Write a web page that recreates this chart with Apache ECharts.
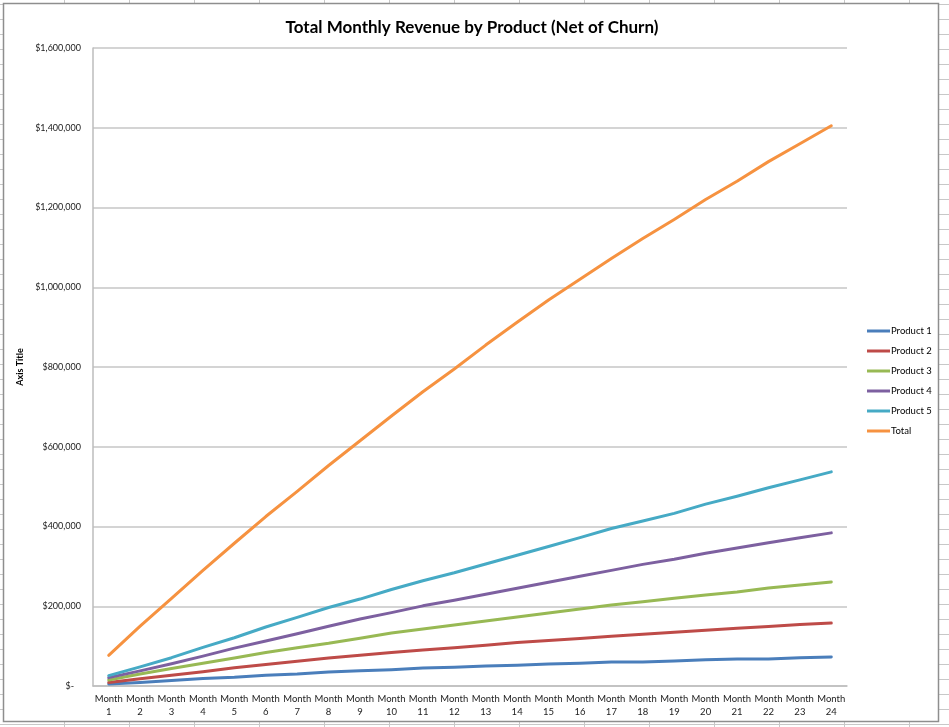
<!DOCTYPE html>
<html>
<head>
<meta charset="utf-8">
<script src="https://cdn.jsdelivr.net/npm/echarts@6/dist/echarts.min.js"></script>
<style>
  html, body { margin: 0; padding: 0; }
  body {
    width: 949px; height: 727px; overflow: hidden;
    background-color: #ffffff;
    background-image:
      repeating-linear-gradient(to right, transparent 0, transparent 63px, #c8c8c8 63px, #c8c8c8 64px, transparent 64px, transparent 65px),
      repeating-linear-gradient(to bottom, transparent 0, transparent 2px, #c8c8c8 2px, #c8c8c8 3px, transparent 3px, transparent 15px);
    background-position: 1px 0, 0 2px;
  }
  #chart { position: absolute; left: 0; top: 0; width: 949px; height: 727px; }
</style>
</head>
<body>
<div id="chart"></div>
<script>
// ---- data (in dollars) ----
const categories = ['Month\n1','Month\n2','Month\n3','Month\n4','Month\n5','Month\n6','Month\n7','Month\n8',
  'Month\n9','Month\n10','Month\n11','Month\n12','Month\n13','Month\n14','Month\n15','Month\n16',
  'Month\n17','Month\n18','Month\n19','Month\n20','Month\n21','Month\n22','Month\n23','Month\n24'];
const product1 = [5000, 9000, 14000, 19000, 22000, 27000, 30000, 35000, 38000, 41000, 45000, 47000,
  50000, 52000, 55000, 57000, 60000, 60000, 63000, 66000, 68000, 68000, 71000, 73000];
const product2 = [9000, 18000, 27000, 36000, 46000, 54000, 62000, 70000, 77000, 84000, 90000, 96000,
  102000, 109000, 114000, 119000, 125000, 130000, 135000, 140000, 145000, 149000, 154000, 158000];
const product3 = [15000, 30000, 44000, 57000, 70000, 84000, 96000, 107000, 120000, 133000, 143000, 153000,
  163000, 173000, 183000, 193000, 203000, 211000, 220000, 228000, 236000, 246000, 253000, 261000];
const product4 = [21000, 38000, 56000, 75000, 95000, 113000, 131000, 150000, 168000, 184000, 201000, 215000,
  230000, 245000, 260000, 275000, 290000, 305000, 318000, 333000, 346000, 359000, 372000, 384000];
const product5 = [26000, 48000, 71000, 97000, 121000, 148000, 172000, 197000, 218000, 242000, 264000, 284000,
  306000, 328000, 350000, 372000, 395000, 414000, 433000, 456000, 476000, 497000, 517000, 537000];
const total = [77000, 150000, 220000, 290000, 358000, 425000, 488000, 553000, 615000, 677000, 738000, 795000,
  855000, 912000, 968000, 1020000, 1072000, 1122000, 1170000, 1220000, 1266000, 1315000, 1360000, 1405000];
const seriesNames = ['Product 1', 'Product 2', 'Product 3', 'Product 4', 'Product 5', 'Total'];
const seriesData = [product1, product2, product3, product4, product5, total];
const colors = ['#4a7ebb', '#be4b48', '#98b954', '#7d60a0', '#46aac5', '#f69240'];
const yTicks = { min: 0, max: 1600000, interval: 200000 };

const FONT = 'Lato, "Open Sans", sans-serif';

const chart = echarts.init(document.getElementById('chart'), null, { renderer: 'canvas' });
chart.setOption({
  backgroundColor: 'transparent',
  animation: false,
  color: colors,
  graphic: [{
    type: 'rect', z: -10, silent: true,
    shape: { x: 3.5, y: 3.5, width: 935, height: 718 },
    style: { fill: '#ffffff', stroke: '#8e8e8e', lineWidth: 1.5 }
  }],
  title: {
    text: 'Total Monthly Revenue by Product (Net of Churn)',
    left: 467, top: 14, textAlign: 'center',
    textStyle: { fontFamily: FONT, fontWeight: 'bold', fontSize: 17, color: '#000' }
  },
  legend: {
    orient: 'vertical', left: 862, top: 321,
    itemWidth: 23, itemHeight: 3, itemGap: 10, icon: 'rect',
    textStyle: { fontFamily: FONT, fontSize: 9.5, color: '#000', padding: [0, 0, 0, -4] },
    data: seriesNames
  },
  grid: { left: 93, right: 102, top: 48, bottom: 41, containLabel: false },
  xAxis: {
    type: 'category', data: categories, boundaryGap: true,
    axisLine: { show: true, lineStyle: { color: '#bdbdbd', width: 1.5 } },
    axisTick: { show: false },
    axisLabel: { interval: 0, margin: 6, fontFamily: FONT, fontSize: 9.5, lineHeight: 13, color: '#222' },
    splitLine: { show: false }
  },
  yAxis: {
    type: 'value', min: yTicks.min, max: yTicks.max, interval: yTicks.interval,
    name: 'Axis Title', nameLocation: 'middle', nameGap: 58, nameRotate: 90,
    nameTextStyle: { fontFamily: FONT, fontWeight: 'bold', fontSize: 9, color: '#000' },
    axisLine: { show: true, lineStyle: { color: '#bdbdbd', width: 1.5 } },
    axisTick: { show: false },
    axisLabel: {
      margin: 12, fontFamily: FONT, fontSize: 9, color: '#222',
      formatter: v => v === 0 ? '$-   ' : '$' + v.toLocaleString('en-US')
    },
    splitLine: { show: true, lineStyle: { color: '#c6c6c6', width: 1.5 } }
  },
  series: seriesNames.map((n, i) => ({
    name: n, type: 'line', data: seriesData[i],
    showSymbol: false, symbol: 'none', smooth: false,
    lineStyle: { width: 3, color: colors[i], cap: 'round', join: 'round' },
    itemStyle: { color: colors[i] }
  }))
});
</script>
</body>
</html>
